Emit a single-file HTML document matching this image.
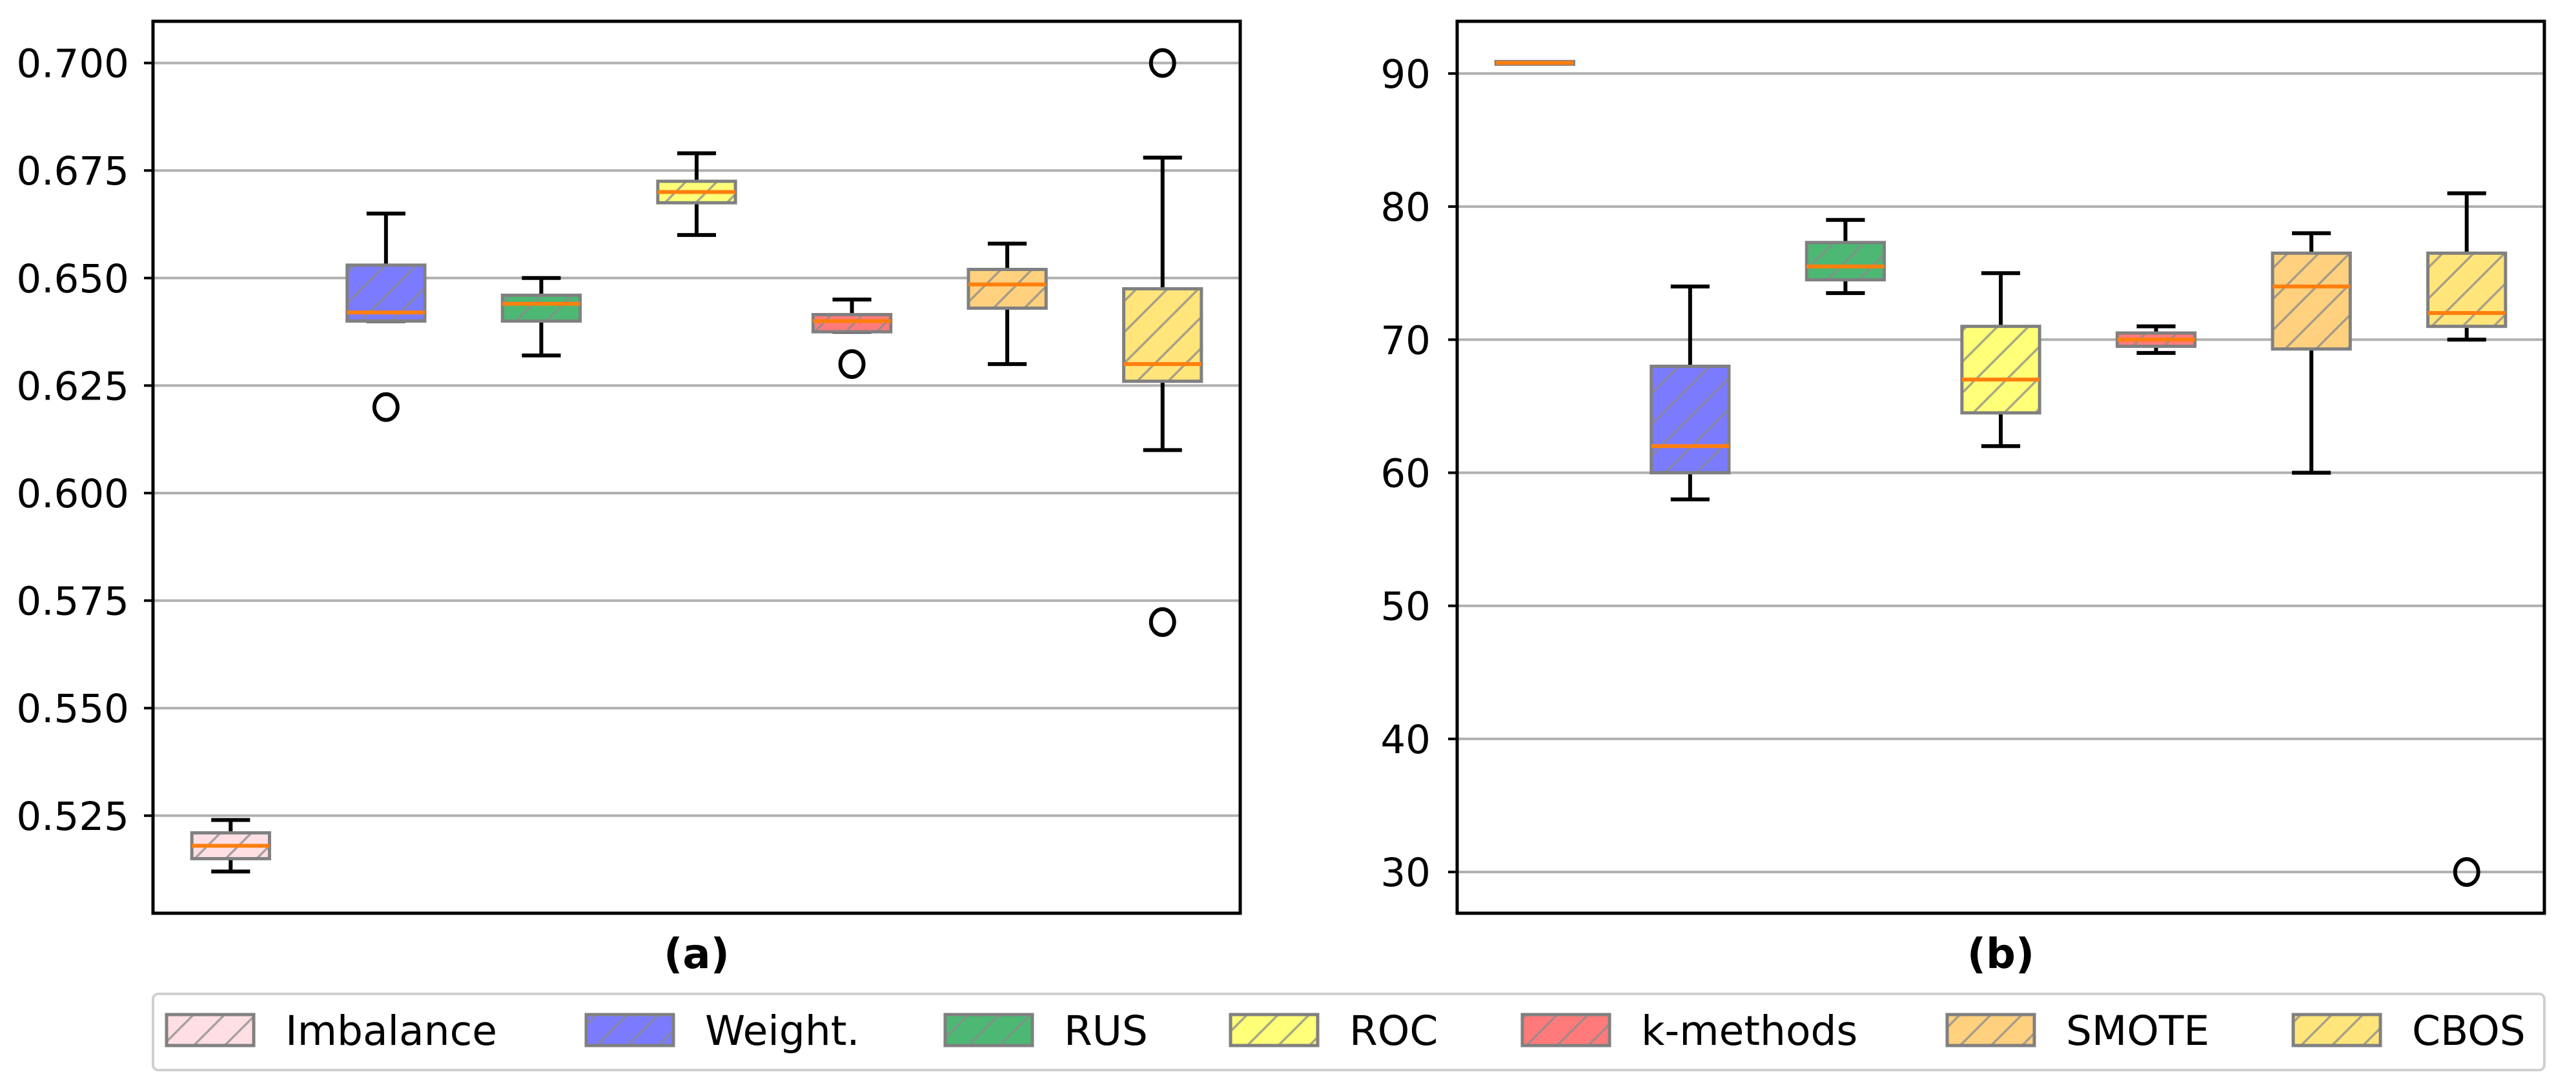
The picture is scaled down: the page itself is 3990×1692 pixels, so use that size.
<!DOCTYPE html>
<html><head><meta charset="utf-8"><style>
html,body{margin:0;padding:0;background:#fff;}
svg{display:block;font-family:"DejaVu Sans","Liberation Sans",sans-serif;}
</style></head><body>
<svg id="chart" width="3990" height="1692" viewBox="0 0 3990 1692" xmlns="http://www.w3.org/2000/svg">
<defs>
<pattern id="hatch" patternUnits="userSpaceOnUse" width="48" height="48">
<path d="M-12,12 L12,-12 M0,48 L48,0 M36,60 L60,36" stroke="#8a8a8a" stroke-width="3.5" stroke-opacity="0.75"/>
</pattern>
</defs>
<g id="panelA"></g>
<g id="panelB"></g>
<g id="legend"></g>
</svg>
<script>
const categories = ["Imbalance","Weight.","RUS","ROC","k-methods","SMOTE","CBOS"];
const colors = ["#ffdfe4","#7b7bff","#4cb873","#ffff78","#ff7b7b","#ffd17e","#ffe57a"];
// panel (a): [whislo, q1, median, q3, whishi]
const statsA = [
 [0.512,0.515,0.518,0.521,0.524],
 [0.640,0.640,0.642,0.653,0.665],
 [0.632,0.640,0.644,0.646,0.650],
 [0.660,0.6675,0.670,0.6725,0.679],
 [0.6375,0.6375,0.640,0.6415,0.645],
 [0.630,0.643,0.6485,0.652,0.658],
 [0.610,0.626,0.630,0.6475,0.678]
];
const outliersA = [[],[0.620],[],[],[0.630],[],[0.700,0.570]];
const ticksA = [0.525,0.550,0.575,0.600,0.625,0.650,0.675,0.700];
const tickLabelsA = ["0.525","0.550","0.575","0.600","0.625","0.650","0.675","0.700"];
// panel (b)
const statsB = [
 [90.8,90.7,90.8,90.9,90.8],
 [58,60,62,68,74],
 [73.5,74.5,75.5,77.3,79],
 [62,64.5,67,71,75],
 [69,69.5,70,70.5,71],
 [60,69.3,74,76.5,78],
 [70,71,72,76.5,81]
];
const outliersB = [[],[],[],[],[],[],[30]];
const ticksB = [30,40,50,60,70,80,90];
const tickLabelsB = ["30","40","50","60","70","80","90"];

const NS="http://www.w3.org/2000/svg";
function mk(tag,attrs,parent){const e=document.createElementNS(NS,tag);for(const k in attrs)e.setAttribute(k,attrs[k]);parent.appendChild(e);return e;}

function drawPanel(g,L,R,T,B,yAt,stats,outs,ticks,tickLabels,labelX,title,key){
  const step=(R-L)/categories.length;
  const xAt=i=>L+step*(i+0.5);
  ticks.forEach((t,i)=>{
    const y=yAt(t);
    const gl=mk('line',{x1:L,x2:R,y1:y,y2:y,stroke:'#b0b0b0','stroke-width':4},g);
    
    
    const tk=mk('line',{x1:L-14,x2:L,y1:y,y2:y,stroke:'#000','stroke-width':4},g);
    
    
    const tl=mk('text',{x:labelX,y:y+22,'text-anchor':'end','font-size':61,fill:'#000'},g);
    tl.textContent=tickLabels[i];
    
    
  });
  const bw=step*0.5;
  stats.forEach((s,i)=>{
    const cx=xAt(i);
    const bg=mk('g',{},g);
    
    
    const [lo,q1,med,q3,hi]=s;
    mk('line',{x1:cx,x2:cx,y1:yAt(q1),y2:yAt(lo),stroke:'#000','stroke-width':6},bg);
    mk('line',{x1:cx,x2:cx,y1:yAt(q3),y2:yAt(hi),stroke:'#000','stroke-width':6},bg);
    mk('line',{x1:cx-bw/4,x2:cx+bw/4,y1:yAt(lo),y2:yAt(lo),stroke:'#000','stroke-width':6},bg);
    mk('line',{x1:cx-bw/4,x2:cx+bw/4,y1:yAt(hi),y2:yAt(hi),stroke:'#000','stroke-width':6},bg);
    const yt=yAt(q3),yb=yAt(q1);
    mk('rect',{x:cx-bw/2,y:yt,width:bw,height:Math.max(yb-yt,1),fill:colors[i]},bg);
    mk('rect',{x:cx-bw/2,y:yt,width:bw,height:Math.max(yb-yt,1),fill:'url(#hatch)',stroke:'#808080','stroke-width':5},bg);
    mk('line',{x1:cx-bw/2,x2:cx+bw/2,y1:yAt(med),y2:yAt(med),stroke:'#ff7f0e','stroke-width':6},bg);
    outs[i].forEach(o=>{
      const c=mk('ellipse',{cx:cx,cy:yAt(o),rx:18,ry:20,fill:'none',stroke:'#000','stroke-width':6},g);
      
      
    });
  });
  const fr=mk('rect',{x:L,y:T,width:R-L,height:B-T,fill:'none',stroke:'#000','stroke-width':5},g);
  
  
  const tt=mk('text',{x:(L+R)/2,y:1500,'text-anchor':'middle','font-size':64,'font-weight':'bold',fill:'#000'},g);
  tt.textContent=title;
  
  
}

const yA=v=>97.6+(0.7-v)/0.025*166.6;
const yB=v=>113.9+(90-v)/10*206.2;
drawPanel(document.getElementById('panelA'),237,1921,33,1415,yA,statsA,outliersA,ticksA,tickLabelsA,200,'(a)','a');
drawPanel(document.getElementById('panelB'),2257,3941,33,1415,yB,statsB,outliersB,ticksB,tickLabelsB,2216,'(b)','b');

const lg=document.getElementById('legend');
mk('rect',{x:237,y:1540,width:3704,height:118,rx:8,fill:'#fff',stroke:'#d0d0d0','stroke-width':4},lg);
const patchX=[258,908,1464,1906,2358,3016,3552];
categories.forEach((c,i)=>{
  const eg=mk('g',{},lg);
  
  
  const px=patchX[i];
  mk('rect',{x:px,y:1572,width:135,height:48,fill:colors[i]},eg);
  mk('rect',{x:px,y:1572,width:135,height:48,fill:'url(#hatch)',stroke:'#808080','stroke-width':5},eg);
  const t=mk('text',{x:px+184,y:1619,'font-size':63,fill:'#000'},eg);
  t.textContent=c;
});
</script>
</body></html>
